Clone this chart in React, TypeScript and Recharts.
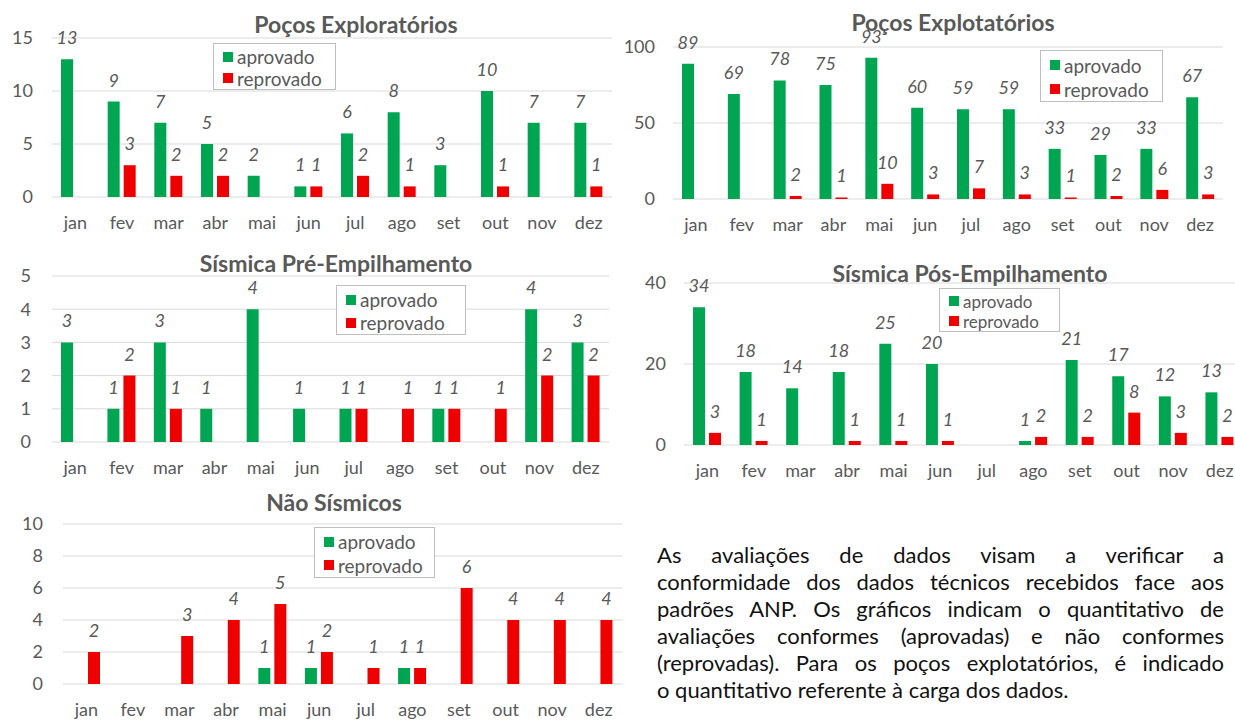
import React from 'react';
import { BarChart, Bar, XAxis, YAxis, CartesianGrid, Legend, LabelList } from 'recharts';

const months = ['jan', 'fev', 'mar', 'abr', 'mai', 'jun', 'jul', 'ago', 'set', 'out', 'nov', 'dez'];

// Poços Exploratórios
const exploratoriosAprovado = [13, 9, 7, 5, 2, 1, 6, 8, 3, 10, 7, 7];
const exploratoriosReprovado = [null, 3, 2, 2, null, 1, 2, 1, null, 1, null, 1];

// Poços Explotatórios
const explotatoriosAprovado = [89, 69, 78, 75, 93, 60, 59, 59, 33, 29, 33, 67];
const explotatoriosReprovado = [null, null, 2, 1, 10, 3, 7, 3, 1, 2, 6, 3];

// Sísmica Pré-Empilhamento
const preAprovado = [3, 1, 3, 1, 4, 1, 1, null, 1, null, 4, 3];
const preReprovado = [null, 2, 1, null, null, null, 1, 1, 1, 1, 2, 2];

// Sísmica Pós-Empilhamento
const posAprovado = [34, 18, 14, 18, 25, 20, null, 1, 21, 17, 12, 13];
const posReprovado = [3, 1, null, 1, 1, 1, null, 2, 2, 8, 3, 2];

// Não Sísmicos
const naoSismicosAprovado = [null, null, null, null, 1, 1, null, 1, null, null, null, null];
const naoSismicosReprovado = [2, null, 3, 4, 5, 2, 1, 1, 6, 4, 4, 4];

const exploratoriosTicks = [0, 5, 10, 15];
const explotatoriosTicks = [0, 50, 100];
const preTicks = [0, 1, 2, 3, 4, 5];
const posTicks = [0, 20, 40];
const naoSismicosTicks = [0, 2, 4, 6, 8, 10];

const paragraphLines = [
  'As avaliações de dados visam a verificar a',
  'conformidade dos dados técnicos recebidos face aos',
  'padrões ANP. Os gráficos indicam o quantitativo de',
  'avaliações conformes (aprovadas) e não conformes',
  '(reprovadas). Para os poços explotatórios, é indicado',
  'o quantitativo referente à carga dos dados.',
];

const GREEN = '#00A551';
const RED = '#EE0000';
const GREY = '#595959';
const FONT = 'Lato, "Open Sans", sans-serif';

const buildRows = (aprovado: (number | null)[], reprovado: (number | null)[]) =>
  months.map((mes, i) => ({ mes, aprovado: aprovado[i], reprovado: reprovado[i] }));

function LegendBox({ w, h, fontSize }: { w: number; h: number; fontSize: number }) {
  const items = [
    { name: 'aprovado', color: GREEN },
    { name: 'reprovado', color: RED },
  ];
  return (
    <div
      style={{
        width: w,
        height: h,
        boxSizing: 'border-box',
        border: '1px solid #BFBFBF',
        background: '#fff',
        padding: '2px 0 0 9px',
        fontFamily: FONT,
        fontSize,
        lineHeight: '17px',
        color: GREY,
      }}
    >
      {items.map((it) => (
        <div key={it.name} style={{ display: 'flex', alignItems: 'center', height: (h - 4) / 2 }}>
          <span style={{ width: 10, height: 10, background: it.color, marginRight: 4, display: 'inline-block' }} />
          <span>{it.name}</span>
        </div>
      ))}
    </div>
  );
}

interface PanelProps {
  title: string;
  data: any[];
  ticks: number[];
  left: number;
  top: number;
  width: number;
  height: number;
  plotLeft: number;
  plotRight: number;
  plotTop: number;
  plotBottom: number;
  yLabelRight: number;
  titleX: number;
  titleY: number;
  legend: { x: number; y: number; w: number; h: number; fontSize?: number };
}

function Panel(p: PanelProps) {
  const yAxisWidth = p.plotLeft - p.left;
  const xAxisHeight = 36;
  const margin = {
    top: p.plotTop - p.top,
    left: 0,
    right: p.left + p.width - p.plotRight,
    bottom: p.top + p.height - p.plotBottom - xAxisHeight,
  };
  const labelStyle = { fill: GREY, fontSize: 18, fontStyle: 'italic', fontFamily: FONT };
  return (
    <div style={{ position: 'absolute', left: p.left, top: p.top, width: p.width, height: p.height }}>
      <BarChart width={p.width} height={p.height} data={p.data} margin={margin} barSize={12} barGap={4}>
        <CartesianGrid vertical={false} stroke="#D9D9D9" />
        <XAxis
          dataKey="mes"
          axisLine={false}
          tickLine={false}
          tickSize={0}
          tickMargin={19}
          height={xAxisHeight}
          interval={0}
          tick={{ fill: GREY, fontSize: 18, fontFamily: FONT }}
        />
        <YAxis
          width={yAxisWidth}
          domain={[p.ticks[0], p.ticks[p.ticks.length - 1]]}
          ticks={p.ticks}
          interval={0}
          axisLine={false}
          tickLine={false}
          tickSize={0}
          tickMargin={p.plotLeft - p.yLabelRight}
          tick={{ fill: GREY, fontSize: 18, fontFamily: FONT }}
        />
        <Legend
          layout="vertical"
          align="center"
          verticalAlign="middle"
          content={() => <LegendBox w={p.legend.w} h={p.legend.h} fontSize={p.legend.fontSize ?? 19} />}
          wrapperStyle={{ position: 'absolute', left: p.legend.x - p.left, top: p.legend.y - p.top, width: p.legend.w }}
        />
        <Bar dataKey="aprovado" fill={GREEN} isAnimationActive={false}>
          <LabelList dataKey="aprovado" position="top" offset={15} {...labelStyle} />
        </Bar>
        <Bar dataKey="reprovado" fill={RED} isAnimationActive={false}>
          <LabelList dataKey="reprovado" position="top" offset={15} {...labelStyle} />
        </Bar>
      </BarChart>
      <div
        style={{
          position: 'absolute',
          left: p.titleX - p.left - 250,
          top: p.titleY - p.top - 14,
          width: 500,
          textAlign: 'center',
          fontFamily: FONT,
          fontWeight: 700,
          fontSize: 23,
          lineHeight: '28px',
          color: GREY,
        }}
      >
        {p.title}
      </div>
    </div>
  );
}

export default function App() {
  return (
    <div style={{ position: 'fixed', left: 0, top: 0, width: 1235, height: 720, overflow: 'hidden', background: '#fff' }}>
      <Panel
        title="Poços Exploratórios"
        data={buildRows(exploratoriosAprovado, exploratoriosReprovado)}
        ticks={exploratoriosTicks}
        left={0}
        top={0}
        width={620}
        height={240}
        plotLeft={52}
        plotRight={612}
        plotTop={38}
        plotBottom={197}
        yLabelRight={33}
        titleX={356}
        titleY={24}
        legend={{ x: 213, y: 43, w: 123, h: 47 }}
      />
      <Panel
        title="Poços Explotatórios"
        data={buildRows(explotatoriosAprovado, explotatoriosReprovado)}
        ticks={explotatoriosTicks}
        left={615}
        top={0}
        width={620}
        height={240}
        plotLeft={673}
        plotRight={1223}
        plotTop={47}
        plotBottom={199}
        yLabelRight={655}
        titleX={953}
        titleY={22}
        legend={{ x: 1040, y: 50, w: 123, h: 52 }}
      />
      <Panel
        title="Sísmica Pré-Empilhamento"
        data={buildRows(preAprovado, preReprovado)}
        ticks={preTicks}
        left={0}
        top={240}
        width={620}
        height={240}
        plotLeft={52}
        plotRight={609}
        plotTop={276}
        plotBottom={442}
        yLabelRight={31}
        titleX={336}
        titleY={263}
        legend={{ x: 336, y: 285, w: 130, h: 50 }}
      />
      <Panel
        title="Sísmica Pós-Empilhamento"
        data={buildRows(posAprovado, posReprovado)}
        ticks={posTicks}
        left={615}
        top={240}
        width={640}
        height={240}
        plotLeft={684}
        plotRight={1243}
        plotTop={283}
        plotBottom={445}
        yLabelRight={666}
        titleX={970}
        titleY={273}
        legend={{ x: 939, y: 288, w: 121, h: 44, fontSize: 17 }}
      />
      <Panel
        title="Não Sísmicos"
        data={buildRows(naoSismicosAprovado, naoSismicosReprovado)}
        ticks={naoSismicosTicks}
        left={0}
        top={480}
        width={640}
        height={240}
        plotLeft={63}
        plotRight={622}
        plotTop={524}
        plotBottom={684}
        yLabelRight={43}
        titleX={334}
        titleY={502}
        legend={{ x: 314, y: 527, w: 121, h: 51 }}
      />
      <div
        style={{
          position: 'absolute',
          left: 657,
          top: 541,
          width: 567,
          fontFamily: FONT,
          fontSize: 22,
          lineHeight: '27px',
          color: '#111',
        }}
      >
        {paragraphLines.map((line, i) => (
          <div
            key={i}
            style={{ textAlign: 'justify', textAlignLast: i < paragraphLines.length - 1 ? 'justify' : 'left' }}
          >
            {line}
          </div>
        ))}
      </div>
    </div>
  );
}
